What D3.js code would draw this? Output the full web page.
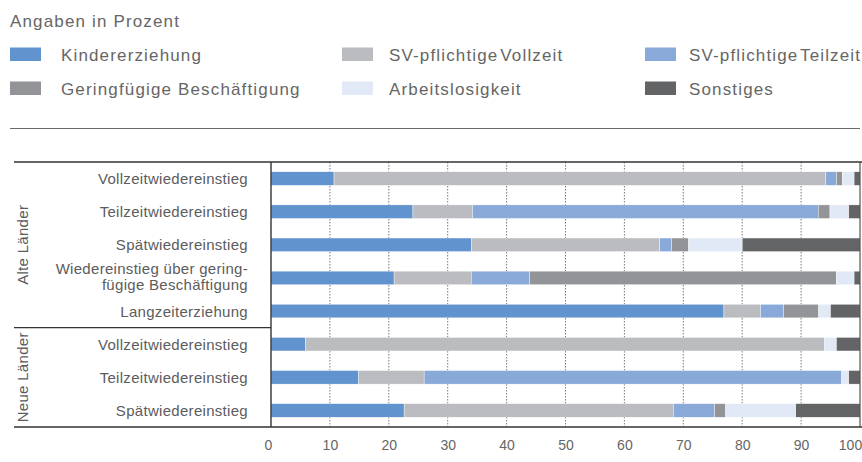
<!DOCTYPE html>
<html>
<head>
<meta charset="utf-8">
<script src="https://cdn.jsdelivr.net/npm/d3@7"></script>
<style>
  body { margin: 0; background: #fff; }
  svg { display: block; font-family: "Liberation Sans", Arial, sans-serif; }
  .lbl { fill: #5c5c5c; font-size: 15px; letter-spacing: 0.3px; }
  .leg { fill: #666; font-size: 17px; letter-spacing: 1.15px; }
  .tick text { fill: #666; font-size: 14px; }
</style>
</head>
<body>
<svg width="862" height="462"></svg>
<script>
const width = 862;
const height = 462;

// rows, top to bottom
const categories = [
    "Vollzeitwiedereinstieg", "Teilzeitwiedereinstieg", "Spätwiedereinstieg",
    "Wiedereinstieg über gering-|fügige Beschäftigung", "Langzeiterziehung",
    "Vollzeitwiedereinstieg", "Teilzeitwiedereinstieg", "Spätwiedereinstieg"
];
const groups = ["Alte Länder", "Neue Länder"];
const groupSizes = [5, 3];

const seriesNames = ["Kindererziehung", "SV-pflichtige Vollzeit", "SV-pflichtige Teilzeit",
    "Geringfügige Beschäftigung", "Arbeitslosigkeit", "Sonstiges"];
const colors = ["#6193ce", "#bbbcc0", "#89a9d9", "#939497", "#e2e9f6", "#636466"];

const kinder     = [10.7, 24.1, 34.0, 20.9, 76.9, 5.9, 14.9, 22.6];
const vollzeit   = [83.5, 10.1, 32.0, 13.1, 6.2, 88.1, 11.1, 45.7];
const teilzeit   = [1.8, 58.7, 2.0, 9.9, 3.9, 0, 70.9, 7.0];
const gering     = [1.0, 2.0, 2.9, 52.1, 6.0, 0, 0, 1.9];
const arbeitslos = [2.0, 3.2, 9.1, 3.0, 2.0, 2.0, 1.2, 11.9];
const sonstiges  = [1.0, 1.9, 20.0, 1.0, 5.0, 4.0, 1.9, 10.9];

const xTicks = [0, 10, 20, 30, 40, 50, 60, 70, 80, 90, 100];

const svg = d3.select('svg');

const table = categories.map((c, i) => ({
    row: i,
    k0: kinder[i], k1: vollzeit[i], k2: teilzeit[i],
    k3: gering[i], k4: arbeitslos[i], k5: sonstiges[i]
}));
const keys = ["k0", "k1", "k2", "k3", "k4", "k5"];
const stacked = d3.stack().keys(keys)(table);

const plotLeft = 271, plotRight = 860, plotTop = 162, plotBottom = 427;

const xScale = d3.scaleLinear().domain([0, 100]).range([plotLeft, plotRight]);
const yScale = d3.scaleBand()
    .domain(d3.range(categories.length))
    .range([plotTop, plotBottom])
    .paddingInner(0.59)
    .paddingOuter(0.295);

// title
svg.append('text')
    .attr('class', 'leg')
    .attr('x', 10).attr('y', 26.5)
    .text("Angaben in Prozent");

// legend, 3 columns x 2 rows
const legX = [10, 342, 645];
const legTx = [61, 389, 689];
seriesNames.forEach((name, i) => {
    const col = i % 3, row = Math.floor(i / 3);
    const y = 47.5 + row * 34;
    svg.append('rect')
        .attr('x', legX[col]).attr('y', y)
        .attr('width', 31).attr('height', 13.5)
        .attr('fill', colors[i]);
    svg.append('text')
        .attr('class', 'leg')
        .attr('x', legTx[col]).attr('y', y + 13.5)
        .style('word-spacing', name.startsWith('SV') ? '-4px' : null)
        .text(name);
});

// separator under legend
svg.append('line')
    .attr('x1', 10).attr('x2', 860)
    .attr('y1', 128.5).attr('y2', 128.5)
    .attr('stroke', '#6a6a6a').attr('stroke-width', 1.2);

// gridlines
svg.append('g').selectAll('line')
    .data(xTicks.filter(t => t > 0 && t < 100))
    .enter().append('line')
    .attr('x1', d => xScale(d)).attr('x2', d => xScale(d))
    .attr('y1', plotTop).attr('y2', plotBottom)
    .attr('stroke', '#555')
    .attr('stroke-width', 0.8)
    .attr('stroke-dasharray', '1.5,1.5');

// bars
svg.append('g').selectAll('g')
    .data(stacked)
    .enter().append('g')
    .attr('fill', (d, i) => colors[i])
    .selectAll('rect')
    .data(d => d)
    .enter().append('rect')
    .attr('x', d => xScale(d[0]))
    .attr('width', d => xScale(d[1]) - xScale(d[0]))
    .attr('y', d => yScale(d.data.row))
    .attr('height', yScale.bandwidth())
    .attr('stroke', '#fff')
    .attr('stroke-width', 0.4);

// frame lines
const frame = svg.append('g').attr('stroke', '#333').attr('stroke-width', 1.4);
frame.append('line').attr('x1', 14).attr('x2', 862).attr('y1', plotTop).attr('y2', plotTop);
frame.append('line').attr('x1', 14).attr('x2', 862).attr('y1', plotBottom).attr('y2', plotBottom);
frame.append('line').attr('x1', plotLeft).attr('x2', plotLeft).attr('y1', plotTop).attr('y2', plotBottom);
frame.append('line').attr('x1', plotRight).attr('x2', plotRight).attr('y1', plotTop).attr('y2', plotBottom)
    .attr('stroke-width', 1);
const splitY = (yScale(groupSizes[0] - 1) + yScale.bandwidth() + yScale(groupSizes[0])) / 2;
frame.append('line').attr('x1', 14).attr('x2', plotLeft).attr('y1', splitY).attr('y2', splitY);

// category labels
categories.forEach((c, i) => {
    const cy = yScale(i) + yScale.bandwidth() / 2;
    const lines = c.split('|');
    const t = svg.append('text')
        .attr('class', 'lbl')
        .attr('text-anchor', 'end');
    if (lines.length === 1) {
        t.attr('x', 248).attr('y', cy + 5.5).text(c);
    } else {
        lines.forEach((l, j) => {
            t.append('tspan').attr('x', 248).attr('y', cy - 4 + j * 16.5).text(l);
        });
    }
});

// group labels
let start = 0;
groups.forEach((g, i) => {
    const y0 = yScale(start) - yScale.step() * yScale.paddingInner() / 2;
    const y1 = yScale(start + groupSizes[i] - 1) + yScale.bandwidth() + yScale.step() * yScale.paddingInner() / 2;
    svg.append('text')
        .attr('class', 'lbl')
        .attr('text-anchor', 'middle')
        .attr('transform', 'translate(28,' + ((y0 + y1) / 2) + ') rotate(-90)')
        .text(g);
    start += groupSizes[i];
});

// x axis
const xAxis = d3.axisBottom(xScale)
    .tickValues(xTicks)
    .tickSize(0)
    .tickPadding(13)
    .tickFormat(d3.format('d'));
const xAxisG = svg.append('g')
    .attr('transform', 'translate(0,' + plotBottom + ')')
    .call(xAxis);
xAxisG.select('.domain').remove();
xAxisG.selectAll('.tick text')
    .attr('font-family', null)
    .attr('font-size', null)
    .attr('dx', d => d === 0 ? -3 : d === 100 ? -10 : 0);
</script>
</body>
</html>
